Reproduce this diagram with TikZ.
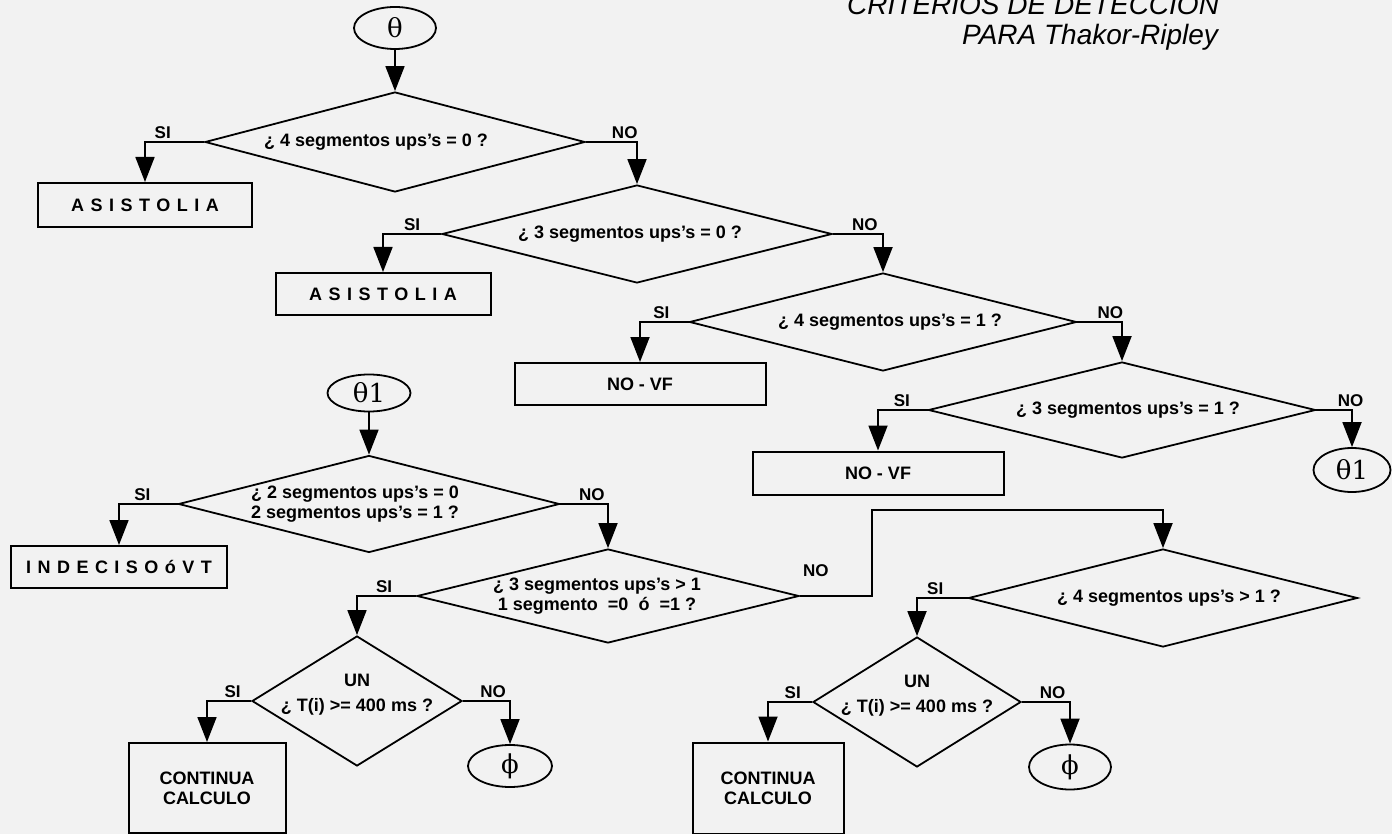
\documentclass[tikz,border=0pt]{standalone}
\usepackage{fontspec}
\setmainfont{Liberation Sans}
\newfontfamily\greekfont{DejaVu Serif}
\newfontfamily\spacedfont[LetterSpace=36]{Liberation Sans}
\usetikzlibrary{shapes.geometric,arrows.meta}

\tikzset{
  dec/.style={diamond, draw, line width=1.8pt, inner sep=0pt,
              minimum width=385pt, minimum height=96pt},
  undec/.style={diamond, draw, line width=1.8pt, inner sep=0pt,
                minimum width=210pt, minimum height=130pt},
  outbox/.style={rectangle, draw, line width=2pt, inner sep=0pt, align=center,
                 font=\bfseries\fontsize{18}{20}\selectfont},
  spaced/.style={font=\spacedfont\bfseries\fontsize{18}{20}\selectfont},
  conn/.style={ellipse, draw, line width=1.8pt, inner sep=0pt,
               font=\greekfont\fontsize{26}{28}\selectfont},
  qtext/.style={font=\bfseries\fontsize{18}{20}\selectfont, align=center, inner sep=0pt},
  lbl/.style={font=\bfseries\fontsize{17}{19}\selectfont, inner sep=2pt},
  arr/.style={-{Triangle[length=25pt,width=19pt]}, line width=1.8pt},
}

\begin{document}
\begin{tikzpicture}[x=1pt, y=-1pt]
\fill[black!5] (0,0) rectangle (1392,834);
\useasboundingbox (0,0) rectangle (1392,834);

% heading
\node[font=\itshape\fontsize{28}{30}\selectfont, anchor=base west, inner sep=0pt]
  (title1) at (847,15) {CRITERIOS DE DETECCION};
\node[font=\itshape\fontsize{28}{30}\selectfont, anchor=base west, inner sep=0pt]
  (title2) at (962,45) {PARA Thakor-Ripley};

% first chain of tests
\node[conn, minimum width=82pt, minimum height=42pt] (th0) at (395,28) {θ};
\node[dec, minimum width=380pt, minimum height=100pt] (q1) at (395,142) {};
\node[qtext] (t1) at ([xshift=-19pt]q1.center) {¿ 4 segmentos ups's = 0 ?};
\node[outbox, spaced, minimum width=214pt, minimum height=44pt] (asis1) at (145,205) {ASISTOLIA};

\node[dec, minimum width=390pt, minimum height=98pt] (q2) at (637,234) {};
\node[qtext] (t2) at ([xshift=-7pt]q2.center) {¿ 3 segmentos ups's = 0 ?};
\node[outbox, spaced, minimum width=215pt, minimum height=42pt] (asis2) at (383,294) {ASISTOLIA};

\node[dec, minimum width=387pt, minimum height=98pt] (q3) at (883,322) {};
\node[qtext] (t3) at ([xshift=7pt]q3.center) {¿ 4 segmentos ups's = 1 ?};
\node[outbox, minimum width=251pt, minimum height=42pt] (novf1) at (640,384) {NO - VF};

\node[dec, minimum width=387pt, minimum height=96pt] (q4) at (1122,410) {};
\node[qtext] (t4) at ([xshift=6pt]q4.center) {¿ 3 segmentos ups's = 1 ?};
\node[outbox, minimum width=251pt, minimum height=43pt] (novf2) at (878,473) {NO - VF};
\node[conn, minimum width=77pt, minimum height=44pt] (th1b) at (1352,470) {θ1};

% second chain, entered at theta 1
\node[conn, minimum width=83pt, minimum height=37pt] (th1) at (369,393) {θ1};
\node[dec, minimum width=381pt, minimum height=97pt] (q6) at (369,504) {};
\node[qtext] (t6) at ([xshift=-14pt]q6.center) {¿ 2 segmentos ups's = 0\\2 segmentos ups's = 1 ?};
\node[outbox, spaced, minimum width=216pt, minimum height=42pt] (indec) at (119,567) {INDECISOóVT};

\node[dec, minimum width=382pt, minimum height=94pt] (q7) at (608,596) {};
\node[qtext] (t7) at ([xshift=-11pt]q7.center) {¿ 3 segmentos ups's > 1\\1 segmento~~=0~~ó~~=1 ?};
\node[dec, minimum width=389pt, minimum height=98pt] (q5) at (1163,598) {};
\node[qtext] (t5) at ([xshift=6pt]q5.center) {¿ 4 segmentos ups's > 1 ?};
\coordinate (loop) at (872,510);

\node[undec] (un1) at (357,701) {};
\node[qtext, font=\bfseries\fontsize{18}{25}\selectfont] (u1) at ([yshift=6pt]un1.center) {UN\\¿ T(i) >= 400 ms ?};
\node[outbox, minimum width=157pt, minimum height=90pt] (cont1) at (207,788) {CONTINUA\\CALCULO};
\node[conn, minimum width=84pt, minimum height=42pt] (phi1) at (510,766) {ϕ};

\node[undec, minimum width=208pt] (un2) at (917,702) {};
\node[qtext, font=\bfseries\fontsize{18}{25}\selectfont] (u2) at ([yshift=6pt]un2.center) {UN\\¿ T(i) >= 400 ms ?};
\node[outbox, minimum width=151pt, minimum height=91pt] (cont2) at (768,788) {CONTINUA\\CALCULO};
\node[conn, minimum width=82pt, minimum height=45pt] (phi2) at (1070,767) {ϕ};

% connectors
\draw[arr] (th0) -- (q1);
\draw[arr] (q1.west) -| node[lbl, pos=0.35, above]{SI} (asis1.north);
\draw[arr] (q1.east) -| node[lbl, pos=0.38, above]{NO} (q2.north);
\draw[arr] (q2.west) -| node[lbl, pos=0.25, above]{SI} (asis2.north);
\draw[arr] (q2.east) -| node[lbl, pos=0.32, above]{NO} (q3.north);
\draw[arr] (q3.west) -| node[lbl, pos=0.28, above]{SI} (novf1.north);
\draw[arr] (q3.east) -| node[lbl, pos=0.37, above]{NO} (q4.north);
\draw[arr] (q4.west) -| node[lbl, pos=0.26, above]{SI} (novf2.north);
\draw[arr] (q4.east) -| node[lbl, pos=0.48, above]{NO} (th1b.north);

\draw[arr] (th1) -- (q6);
\draw[arr] (q6.west) -| node[lbl, pos=0.3, above]{SI} (indec.north);
\draw[arr] (q6.east) -| node[lbl, pos=0.33, above]{NO} (q7.north);
\draw[arr] (q7.west) -| node[lbl, pos=0.27, above]{SI} (un1.north);
\draw[arr] (q7.east) -| node[lbl, pos=0.11, above=16pt]{NO} (loop) -| (q5.north);
\draw[arr] (q5.west) -| node[lbl, pos=0.32, above]{SI} (un2.north);
\draw[arr] (un1.west) -| node[lbl, pos=0.21, above]{SI} (cont1.north);
\draw[arr] (un1.east) -| node[lbl, pos=0.32, above]{NO} (phi1.north);
\draw[arr] (un2.west) -| node[lbl, pos=0.22, above]{SI} (cont2.north);
\draw[arr] (un2.east) -| node[lbl, pos=0.32, above]{NO} (phi2.north);
\end{tikzpicture}
\end{document}
